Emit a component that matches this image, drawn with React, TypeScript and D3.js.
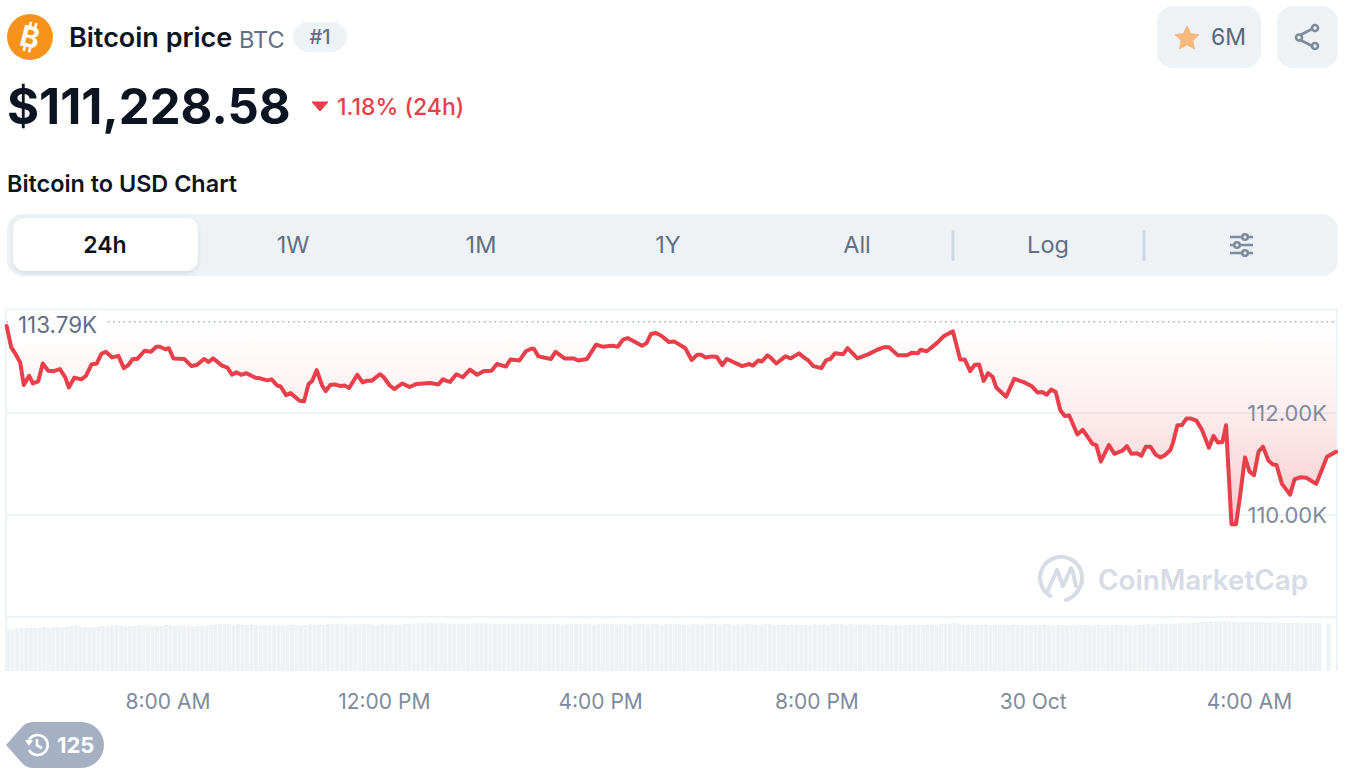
// App.tsx - BTC price card: 24h price line with volume strip
import * as d3 from "d3"

const minutes = [
  1, 6, 10, 16, 20, 26, 30, 36, 41, 47, 53, 60, 66, 70, 76, 84, 89, 95, 101, 106, 111, 118, 125, 131, 136, 141, 146, 154, 161, 167, 171, 177, 181, 186, 198, 206, 212, 220, 225, 230,
  240, 246, 251, 256, 261, 267, 277, 282, 290, 295, 301, 305, 311, 316, 326, 331, 336, 340, 345, 351, 355, 360, 365, 371, 376, 381, 390, 396, 400, 406, 415, 419, 426, 431, 440, 448, 456, 471, 480, 485, 489,
  493, 500, 507, 515, 523, 530, 539, 545, 555, 560, 570, 577, 583, 586, 591, 605, 610, 620, 630, 635, 645, 655, 662, 673, 679, 685, 690, 706, 711, 716, 721, 727, 736, 742, 754, 761, 767, 772, 776, 784, 789, 795, 800,
  817, 825, 829, 835, 839, 845, 849, 855, 865, 871, 880, 887, 890, 896, 905, 910, 915, 920, 929, 934, 945, 958, 967, 975, 980, 990, 1000, 1005, 1012, 1015, 1022, 1033, 1041, 1051,
  1059, 1064, 1070, 1075, 1080, 1085, 1090, 1095, 1099, 1110, 1119, 1125, 1129, 1138, 1145, 1150, 1155, 1160, 1165, 1170, 1175, 1180, 1189, 1195, 1206, 1210, 1215, 1224, 1230, 1239, 1244, 1249, 1255, 1260, 1265, 1270, 1276, 1281, 1286, 1292, 1295,
  1300, 1305, 1310, 1315, 1321, 1327, 1335, 1340, 1345, 1350, 1354, 1360, 1365, 1369, 1375, 1380, 1385, 1390, 1395, 1401, 1406, 1410, 1416, 1425, 1430, 1436, 1443, 1454, 1466, 1476,
]

const prices = [
  113705, 113290, 113180, 112990, 112550, 112730, 112580, 112620, 112970, 112830, 112820, 112860, 112700, 112500, 112690, 112660, 112730, 112950, 112970, 113160, 113200, 113090, 113120, 112880, 112940, 113060, 113060, 113220, 113200, 113300, 113300, 113250, 113270, 113070, 113060, 112920, 112940, 113060, 113000, 113070,
  112930, 112890, 112750, 112800, 112750, 112780, 112690, 112680, 112640, 112660, 112540, 112520, 112350, 112390, 112240, 112230, 112570, 112630, 112840, 112540, 112430, 112550, 112560, 112530, 112540, 112490, 112750, 112600, 112630, 112630, 112760, 112710, 112540, 112470, 112580, 112510, 112570, 112590, 112560, 112660, 112630,
  112610, 112760, 112700, 112850, 112750, 112820, 112830, 112960, 112910, 113050, 113030, 113210, 113260, 113260, 113110, 113060, 113200, 113070, 113070, 113030, 113060, 113340, 113300, 113320, 113300, 113440, 113470, 113320, 113370, 113550, 113570, 113520, 113390, 113400, 113270, 113040, 113140, 113140, 113090, 113110, 113100, 112940, 113060,
  112920, 112960, 112930, 113030, 113010, 113130, 113080, 112970, 113110, 113070, 113170, 113070, 113040, 112920, 112880, 113030, 113060, 113170, 113150, 113270, 113070, 113160, 113240, 113290, 113290, 113130, 113130, 113180, 113170, 113240, 113210, 113370, 113510, 113600,
  113050, 113050, 112820, 112940, 112950, 112630, 112780, 112710, 112500, 112320, 112670, 112630, 112610, 112530, 112400, 112410, 112360, 112460, 112410, 112060, 111940, 111950, 111580, 111670, 111390, 111370, 111050, 111370, 111200, 111260, 111350, 111200, 111210, 111160, 111340, 111340, 111180, 111130, 111170, 111270, 111410,
  111760, 111760, 111890, 111890, 111850, 111680, 111320, 111550, 111420, 111430, 111760, 109820, 109820, 110300, 111130, 110850, 110780, 111240, 111340, 111070, 110990, 110980, 110610, 110400, 110700, 110740, 110730, 110610, 111140, 111240,
]

// relative volume per 5 minute bucket, 0 = no bar
const volumes = [
  84, 82, 86, 85, 86, 87, 86, 87, 88, 86, 87, 88, 87, 88, 90, 92, 89, 88, 87, 88, 89, 90, 89, 91,
  92, 91, 89, 90, 90, 92, 91, 90, 89, 91, 90, 92, 92, 91, 90, 91, 90, 89, 90, 91, 90, 92, 93, 94,
  94, 94, 93, 94, 93, 92, 93, 92, 91, 92, 91, 92, 91, 91, 92, 93, 92, 91, 92, 94, 93, 93, 92, 94,
  94, 95, 94, 94, 93, 94, 93, 94, 94, 93, 93, 94, 93, 94, 93, 93, 94, 94, 95, 96, 95, 96, 97, 96,
  96, 95, 94, 95, 94, 95, 94, 95, 96, 95, 96, 95, 94, 94, 95, 94, 95, 94, 94, 95, 94, 95, 94, 94,
  95, 94, 94, 93, 94, 95, 94, 94, 95, 94, 93, 94, 94, 95, 94, 93, 94, 94, 93, 95, 94, 94, 93, 94,
  94, 93, 94, 94, 95, 94, 93, 93, 94, 94, 93, 94, 95, 94, 93, 94, 94, 93, 94, 93, 94, 94, 93, 93,
  94, 94, 93, 92, 93, 92, 93, 93, 92, 92, 93, 94, 93, 93, 92, 94, 94, 94, 93, 94, 93, 93, 94, 93,
  93, 92, 93, 92, 91, 92, 91, 92, 92, 93, 93, 92, 93, 93, 93, 94, 94, 95, 96, 94, 93, 93, 92, 93,
  92, 93, 92, 93, 93, 92, 92, 93, 92, 92, 91, 92, 92, 92, 93, 92, 91, 92, 92, 91, 92, 91, 92, 92,
  91, 92, 92, 91, 92, 92, 93, 92, 92, 91, 92, 92, 93, 94, 93, 94, 94, 95, 95, 95, 96, 97, 96, 97,
  97, 98, 98, 99, 99, 99, 100, 100, 99, 98, 98, 97, 98, 97, 98, 97, 97, 97, 97, 97, 97, 97, 97, 96,
  96, 96, 96, 96, 0, 95,
]

const referencePrice = 113790
const yTicks = [112000, 110000]
const xTickMinutes = [180, 420, 660, 900, 1140, 1380]
const xTickLabels = ["8:00 AM", "12:00 PM", "4:00 PM", "8:00 PM", "30 Oct", "4:00 AM"]
const tabs = ["24h", "1W", "1M", "1Y", "All"]
const tabCenters = [105, 293, 481, 668, 857]

const RED = "#e83f4a"
const GRAY = "#eff2f5"
const FONT = "Inter, 'Noto Sans', sans-serif"

const WIDTH = 1356
const HEIGHT = 770
const left = 7
const right = 1337

const x = d3.scaleLinear().domain([180, 1380]).range([168, 1249.5])
const y = d3.scaleLinear().domain([110000, 112000]).range([515, 413])
const yVol = d3.scaleLinear().domain([0, 100]).range([671, 621])

const series = minutes.map((m, i) => ({ m, p: prices[i] }))
const line = d3.line<{ m: number; p: number }>().x(d => x(d.m)).y(d => y(d.p))
const area = d3.area<{ m: number; p: number }>().x(d => x(d.m)).y0(y(referencePrice)).y1(d => y(d.p))
const priceLabel = (v: number) => `${(v / 1000).toFixed(2)}K`

export default function App() {
  return (
    <svg width={WIDTH} height={HEIGHT} style={{ position: "absolute", left: 0, top: 0, background: "#fff" }} fontFamily={FONT}>
      <defs>
        <linearGradient id="above-fill" gradientUnits="userSpaceOnUse" x1="0" x2="0" y1={y(referencePrice)} y2={y(109800)}>
          <stop offset="0%" stopColor={RED} stopOpacity={0} />
          <stop offset="20%" stopColor={RED} stopOpacity={0.035} />
          <stop offset="40%" stopColor={RED} stopOpacity={0.08} />
          <stop offset="70%" stopColor={RED} stopOpacity={0.18} />
          <stop offset="100%" stopColor={RED} stopOpacity={0.28} />
        </linearGradient>
        <filter id="tab-shadow" x="-5%" y="-20%" width="110%" height="140%">
          <feDropShadow dx="0" dy="2" stdDeviation="2" floodColor="#58667e" floodOpacity="0.18" />
        </filter>
      </defs>

      {/* header */}
      <circle cx={30} cy={37} r={23} fill="#f7931a" />
      <g transform="rotate(14 30 37)" fill="#fff">
        <text x={30} y={47.5} textAnchor="middle" fontSize={29} fontWeight={700}>B</text>
        <rect x={26} y={22} width={2.6} height={5} />
        <rect x={31.5} y={22} width={2.6} height={5} />
        <rect x={26} y={47} width={2.6} height={5} />
        <rect x={31.5} y={47} width={2.6} height={5} />
      </g>
      <text x={69} y={47} fontSize={27} fontWeight={600} fill="#0d1421">Bitcoin price</text>
      <text x={239} y={48} fontSize={23.5} fill="#616e85">BTC</text>
      <rect x={293} y={22} width={54} height={30} rx={15} fill={GRAY} />
      <text x={320} y={44} textAnchor="middle" fontSize={20} fontWeight={500} fill="#616e85">#1</text>

      <text x={7} y={124} fontSize={49} fontWeight={700} fill="#0d1421">$111,228.58</text>
      <path d="M312,102 L328,102 L320,111 Z" fill={RED} stroke={RED} strokeLinejoin="round" />
      <text x={337} y={115} fontSize={23} fontWeight={500} fill={RED}>1.18% (24h)</text>

      <rect x={1157} y={6} width={104} height={62} rx={16} fill={GRAY} />
      <path d="M1187,26 L1190.6,33.6 L1199,34.7 L1192.9,40.5 L1194.4,48.8 L1187,44.8 L1179.6,48.8 L1181.1,40.5 L1175,34.7 L1183.4,33.6 Z" fill="#f6b97e" stroke="#f6b97e" strokeLinejoin="round" />
      <text x={1211} y={45} fontSize={23} fill="#58667e">6M</text>
      <rect x={1277} y={6} width={61} height={62} rx={16} fill={GRAY} />
      <g fill="none" stroke="#808a9d" strokeWidth={2.6}>
        <path d="M1300.5,35 L1312,29 M1300.5,40 L1312,46" />
        <circle cx={1315} cy={28} r={3} />
        <circle cx={1299} cy={37.5} r={3} />
        <circle cx={1315} cy={46} r={3} />
      </g>

      <text x={7} y={192} fontSize={23.4} fontWeight={600} fill="#0d1421">Bitcoin to USD Chart</text>

      {/* range tabs */}
      <rect x={7} y={214} width={1331} height={62} rx={16} fill={GRAY} />
      <rect x={13} y={218} width={185} height={53} rx={12} fill="#fff" filter="url(#tab-shadow)" />
      {tabs.map((t, i) => (
        <text key={t} x={tabCenters[i]} y={253} textAnchor="middle" fontSize={i === 0 ? 23 : 23.5} fontWeight={i === 0 ? 600 : 400} fill={i === 0 ? "#0d1421" : "#616e85"}>{t}</text>
      ))}
      <text x={1048} y={253} textAnchor="middle" fontSize={23.5} fill="#616e85">Log</text>
      <rect x={951.5} y={230} width={3} height={31} rx={1} fill="#cfd6e4" />
      <rect x={1142.5} y={230} width={3} height={31} rx={1} fill="#cfd6e4" />
      <g stroke="#808a9d" strokeWidth={2.6} fill={GRAY}>
        <path d="M1230,237 H1253 M1230,245 H1253 M1230,253 H1253" fill="none" />
        <circle cx={1245} cy={237} r={2.8} />
        <circle cx={1237} cy={245} r={2.8} />
        <circle cx={1245} cy={253} r={2.8} />
      </g>

      {/* chart frame and grid */}
      <path d={`M${left - 1},671 V309.5 H${right} V671`} fill="none" stroke={GRAY} strokeWidth={2} />
      <line x1={left} x2={right} y1={617} y2={617} stroke={GRAY} strokeWidth={2} />
      {yTicks.map(t => (
        <line key={t} x1={left} x2={right} y1={y(t)} y2={y(t)} stroke={GRAY} strokeWidth={2} />
      ))}

      {/* volume */}
      {volumes.map((v, i) =>
        v > 0 ? (
          <rect key={i} x={x(i * 5) + 0.4} y={yVol(v)} width={x(5) - x(0) - 0.5} height={yVol(0) - yVol(v)} fill="#eff2f5" />
        ) : null
      )}

      {/* price */}
      <path d={area(series) ?? ""} fill="url(#above-fill)" />
      <line x1={left} x2={right - 2} y1={y(referencePrice)} y2={y(referencePrice)} stroke="#a6b0c3" strokeWidth={1.6} strokeDasharray="1.6 3.7" />
      <rect x={8} y={310.5} width={96} height={35} fill="#fff" />
      <path d={line(series) ?? ""} fill="none" stroke={RED} strokeWidth={4} strokeLinejoin="round" strokeLinecap="round" />

      <text x={18} y={333} fontSize={22.4} fill="#616e85">{priceLabel(referencePrice)}</text>
      {yTicks.map(t => (
        <text key={t} x={1327} y={y(t) + 7.5} textAnchor="end" fontSize={22} fill="#808a9d">{priceLabel(t)}</text>
      ))}

      {/* watermark */}
      <g fill="none" stroke="#d6dbe5" strokeWidth={4} strokeLinecap="round" strokeLinejoin="round">
        <path d="M1050.5,596 A21,21 0 1 1 1080,587 C1077,594 1072,598 1066,600" />
        <path d="M1048,590 L1057,570 L1063,586 L1071,568 C1074,572 1074,580 1076,586" />
      </g>
      <text x={1098} y={590} fontSize={27.8} fontWeight={600} fill="#d6dbe5">CoinMarketCap</text>

      {/* time axis */}
      {xTickMinutes.map((m, i) => (
        <text key={m} x={x(m)} y={709} textAnchor="middle" fontSize={21} fill="#808a9d">{xTickLabels[i]}</text>
      ))}

      {/* view count badge */}
      <path d="M6,745 L22,727 Q26,722 34,722 H81 A23,23 0 0 1 81,768 H34 Q26,768 22,763 Z" fill="#a6b0c3" />
      <g fill="none" stroke="#fff" strokeWidth={2.6}>
        <path d="M29,740 A10,10 0 1 1 29,750" />
        <path d="M37,739 V745.5 L42,748" />
      </g>
      <path d="M25,740 L33,740 L29,746 Z" fill="#fff" />
      <text x={57} y={753} fontSize={22} fontWeight={700} fill="#fff">125</text>
    </svg>
  )
}
